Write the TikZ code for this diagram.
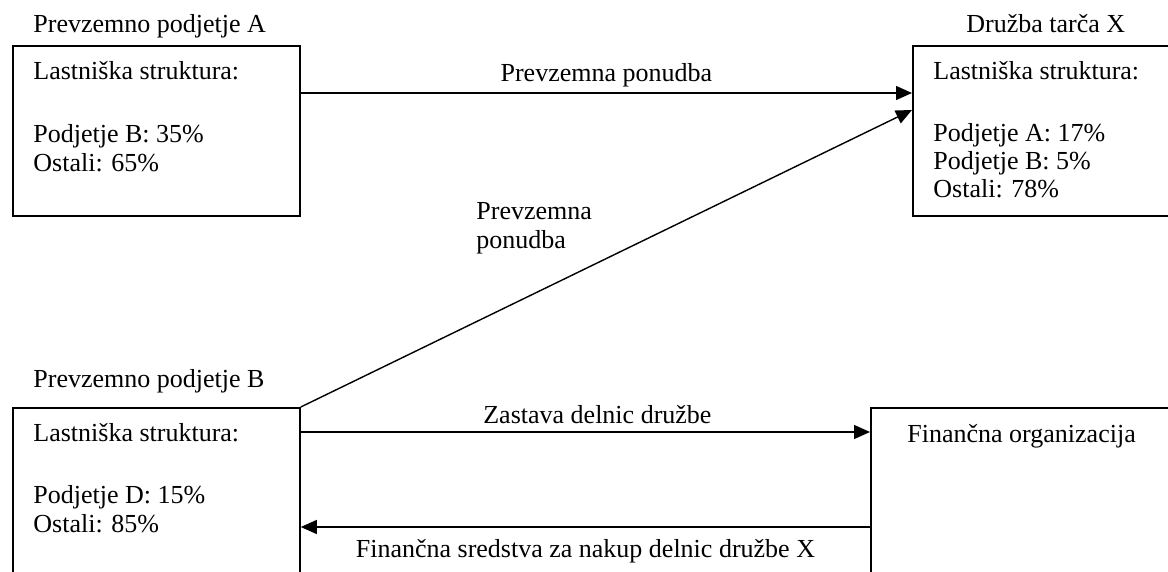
\documentclass[tikz,border=0pt]{standalone}
\usepackage{fontspec}
\setmainfont{Liberation Serif}
\usetikzlibrary{arrows.meta, positioning}

\begin{document}
\begin{tikzpicture}[
    x=0.5pt, y=-0.5pt,
    box/.style={rectangle, draw, line width=0.9pt, inner sep=0pt, anchor=north west},
    txt/.style={font=\fontsize{13}{14.5}\selectfont, inner sep=0pt, anchor=base west},
    arr/.style={line width=0.7pt, -{Triangle[length=8pt, width=7pt]}},
    arrowlabel/.style={font=\fontsize{13}{14.5}\selectfont, inner sep=0pt, anchor=base}
]
\clip (0,0) rectangle (1168,572);

% boxes (the right and bottom ones run off the page)
\node[box, minimum width=143.5pt, minimum height=85pt] (boxA) at (12,45) {};
\node[box, minimum width=150pt, minimum height=85pt] (boxX) at (912,45) {};
\node[box, minimum width=143.5pt, minimum height=100pt] (boxB) at (12,407) {};
\node[box, minimum width=160pt, minimum height=100pt] (boxF) at (870,407) {};

% titles
\node[txt] (titleA) at (33,33) {Prevzemno podjetje A};
\node[txt] (titleX) at (966,33) {Družba tarča X};
\node[txt] (titleB) at (33,387) {Prevzemno podjetje B};

% ownership
\node[txt] (ownA) at (33,80) {Lastniška struktura:};
\node[txt] (ownA1) at (33,143) {Podjetje B: 35\%};
\node[txt] (ownA2) at (33,172) {Ostali: 65\%};

\node[txt] (ownX) at (933,80) {Lastniška struktura:};
\node[txt] (ownX1) at (933,142) {Podjetje A: 17\%};
\node[txt] (ownX2) at (933,170) {Podjetje B: 5\%};
\node[txt] (ownX3) at (933,198) {Ostali: 78\%};

\node[txt] (ownB) at (33,442) {Lastniška struktura:};
\node[txt] (ownB1) at (33,503) {Podjetje D: 15\%};
\node[txt] (ownB2) at (33,532) {Ostali: 85\%};

\node[txt] (finOrg) at (907,443) {Finančna organizacija};

% connectors
\draw[arr] ([yshift=-24pt]boxA.north east) coordinate (offerA) -- (offerA -| boxX.west)
    node[midway, arrowlabel, yshift=5.5pt] {Prevzemna ponudba};
\draw[arr] (boxB.north east) -- ([yshift=-32.5pt]boxX.north west);
\node[txt, anchor=north west, align=left] (offerB) at (476,202) {Prevzemna\\ponudba};
\draw[arr] ([yshift=-12.5pt]boxB.north east) coordinate (pledge) -- (pledge -| boxF.west)
    node[midway, arrowlabel, xshift=6pt, yshift=4.5pt] {Zastava delnic družbe};
\draw[arr] ([yshift=-60pt]boxF.north west) coordinate (funds) -- (funds -| boxB.east)
    node[midway, arrowlabel, yshift=-15pt] {Finančna sredstva za nakup delnic družbe X};
\end{tikzpicture}
\end{document}
